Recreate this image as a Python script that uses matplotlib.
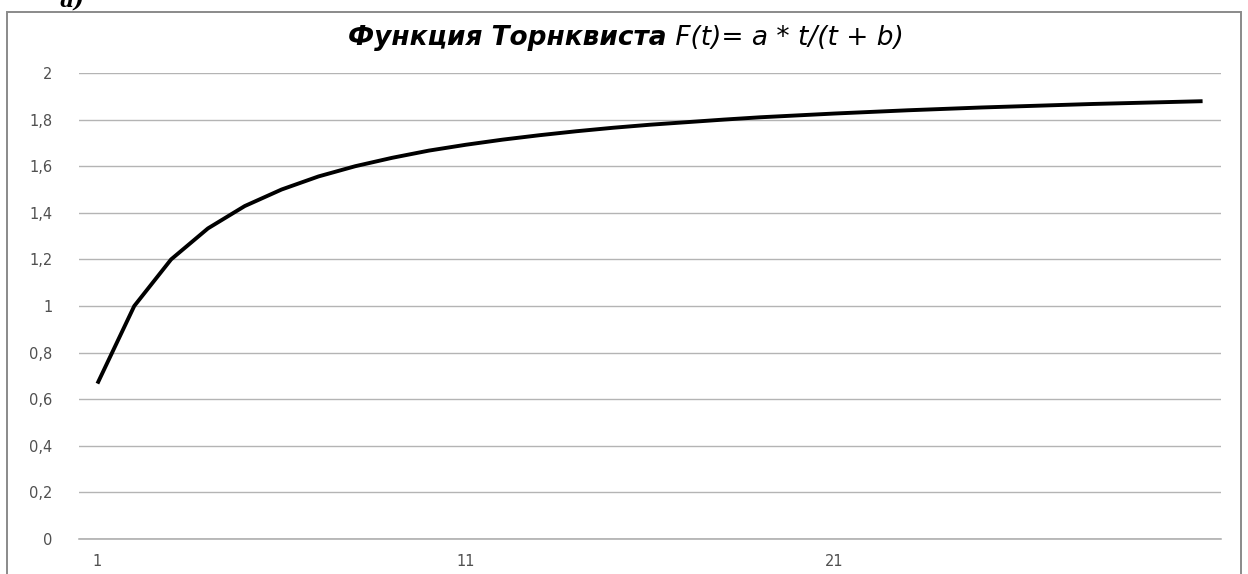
import matplotlib
matplotlib.use("Agg")
import matplotlib.pyplot as plt
from matplotlib.patches import Rectangle

# Data
t_values = list(range(1, 32))
f_values = [0.667, 1.000, 1.200, 1.333, 1.429, 1.500, 1.556, 1.600, 1.636, 1.667,
            1.692, 1.714, 1.733, 1.750, 1.765, 1.778, 1.789, 1.800, 1.810, 1.818,
            1.826, 1.833, 1.840, 1.846, 1.852, 1.857, 1.862, 1.867, 1.871, 1.875,
            1.879]
y_ticks = [0, 0.2, 0.4, 0.6, 0.8, 1.0, 1.2, 1.4, 1.6, 1.8, 2.0]
y_tick_labels = ["0", "0,2", "0,4", "0,6", "0,8", "1", "1,2", "1,4", "1,6", "1,8", "2"]
x_tick_cats = [1, 11, 21]
title_bold = "Функция Торнквиста"
title_rest = " F(t)= a * t/(t + b)"
corner_label = "а)"

W, H = 1248, 574
fig = plt.figure(figsize=(W / 100, H / 100), dpi=100)
fig.patch.set_facecolor("white")

# Outer chart frame
frame = Rectangle((7 / W, -0.02), (1241 - 7) / W, (H - 12) / H + 0.02,
                  transform=fig.transFigure, fill=False, edgecolor="#8a8a8a",
                  linewidth=1.4, clip_on=False)
fig.add_artist(frame)

ax = fig.add_axes([79 / W, 35 / H, (1221 - 79) / W, (539 - 73) / H])
n = len(t_values)
xpos = [i for i in range(n)]
ax.plot(xpos, f_values, color="black", linewidth=2.8, solid_capstyle="butt",
        zorder=3)
ax.set_xlim(-0.5, n - 0.5)
ax.set_ylim(0, 2)
ax.set_yticks(y_ticks)
ax.set_yticklabels(y_tick_labels)
ax.set_xticks([t_values.index(c) for c in x_tick_cats])
ax.set_xticklabels([str(c) for c in x_tick_cats])
for s in ax.spines.values():
    s.set_visible(False)
ax.grid(axis="y", color="#b4b4b4", linewidth=1.0)
ax.axhline(0, color="#a8a8a8", linewidth=1.1, clip_on=False, zorder=1)
ax.set_axisbelow(True)
ax.tick_params(axis="both", length=0, labelsize=10.5, labelcolor="#505050")
ax.tick_params(axis="y", pad=19)
ax.tick_params(axis="x", pad=11)
for lab in ax.get_xticklabels() + ax.get_yticklabels():
    lab.set_fontfamily("DejaVu Sans")

# Title in two parts
fig.canvas.draw()
r = fig.canvas.get_renderer()
t1 = fig.text(0, 1 - 45 / H, title_bold, fontsize=19, fontweight="bold",
              fontstyle="italic", family="DejaVu Sans", va="baseline", ha="left")
t2 = fig.text(0, 1 - 45 / H, title_rest, fontsize=19, fontstyle="italic",
              family="DejaVu Sans", va="baseline", ha="left")
b1 = t1.get_window_extent(r)
b2 = t2.get_window_extent(r)
total = b1.width + b2.width
x0 = 626 - total / 2
t1.set_x(x0 / W)
t2.set_x((x0 + b1.width) / W)

fig.text(60 / W, 1 - 7 / H, corner_label, fontsize=16, fontweight="bold",
         fontstyle="italic", family="DejaVu Serif", va="baseline", ha="left")

fig.savefig("out.png", dpi=100)
